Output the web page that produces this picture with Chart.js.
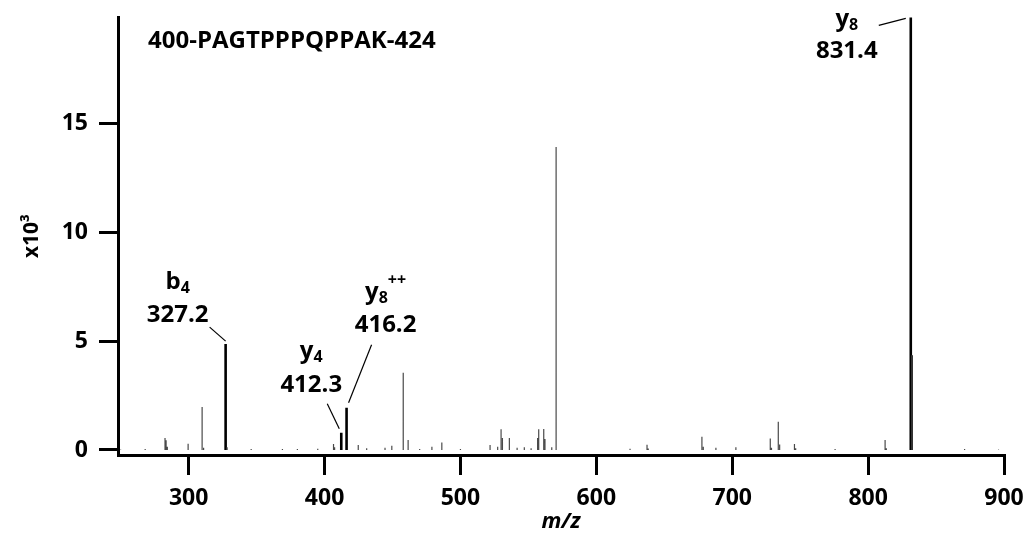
<!DOCTYPE html>
<html lang="en">
<head>
<meta charset="UTF-8">
<title>MS/MS spectrum - 400-PAGTPPPQPPAK-424</title>
<script src="https://cdn.jsdelivr.net/npm/chart.js"></script>
<style>
  html, body { margin: 0; padding: 0; background: #fff; }
</style>
</head>
<body>
<canvas id="spectrum" width="1029" height="539"></canvas>

<script>
// --- data (intensity in x10^3) ---
const peptideName = '400-PAGTPPPQPPAK-424';
const xTickValues = [300, 400, 500, 600, 700, 800, 900];
const yTickValues = [0, 5, 10, 15];

// annotated fragment ions (thick black sticks)
const ionMz = [327.2, 412.3, 416.2, 831.4];
const ionIntensity = [4.86, 0.79, 1.94, 19.85];
const ionLetter = ['b', 'y', 'y', 'y'];
const ionIndex = ['4', '4', '8', '8'];
const ionCharge = ['', '', '++', ''];

// y8 isotope, drawn with the ion
const isoMz = [832.3];
const isoIntensity = [4.35];

// all other peaks (thin grey sticks)
const peakMz = [268.0, 282.6, 283.4, 284.3, 299.6, 309.9, 311.0, 328.3, 346.0, 369.0,
  380.0, 395.0, 406.6, 407.4, 424.8, 431.0, 444.5, 449.5, 457.9, 461.5,
  470.0, 479.0, 486.3, 500.0, 521.8, 527.4, 529.9, 530.9, 536.0, 541.7,
  547.0, 552.0, 556.8, 557.6, 561.3, 562.2, 567.2, 570.4, 624.8, 637.3,
  638.2, 677.7, 678.7, 688.0, 702.7, 728.0, 728.9, 733.9, 734.9, 745.8,
  746.7, 775.7, 812.5, 813.4, 871.0];
const peakIntensity = [0.05, 0.55, 0.45, 0.15, 0.29, 1.97, 0.10, 0.12, 0.04, 0.05,
  0.04, 0.06, 0.28, 0.12, 0.23, 0.08, 0.10, 0.20, 3.55, 0.46,
  0.05, 0.15, 0.34, 0.04, 0.23, 0.15, 0.95, 0.55, 0.55, 0.10,
  0.12, 0.08, 0.55, 0.95, 0.96, 0.50, 0.12, 13.9, 0.06, 0.24,
  0.07, 0.61, 0.15, 0.10, 0.12, 0.53, 0.10, 1.30, 0.25, 0.28,
  0.08, 0.05, 0.46, 0.08, 0.05];

// noise floor along the baseline
const noiseMz = [250, 896];
const noiseIntensity = [0.04, 0.04];

// --- look ---
const FONT = '"Open Sans", "DejaVu Sans", sans-serif';

// label placement relative to the top of each annotated stick (px)
const labelLayout = [
  { dx: -48, ionDy: -55, valueDy: -22, line: [-16, -17, 0, -3] },
  { dx: -30, ionDy: -75, valueDy: -41, line: [-14, -29, -2, -4] },
  { dx: 39, ionDy: -109, valueDy: -76, line: [25, -63, 2, -5] },
  { dx: -64, ionDy: 9, valueDy: 41, line: [-32, 8, -5, 1] }
];

// each peak becomes a vertical stick: (m,0) -> (m,h), then a gap
function sticks(mz, inten) {
  const pts = [];
  mz.forEach((m, i) => {
    pts.push({ x: m, y: 0 }, { x: m, y: inten[i] }, { x: m, y: null });
  });
  return pts;
}

// title + fragment labels with sub/superscripts
const annotate = {
  id: 'annotate',
  afterDatasetsDraw(chart) {
    const { ctx, chartArea } = chart;
    const xs = chart.scales.x, ys = chart.scales.y;
    ctx.save();
    ctx.fillStyle = '#000';
    ctx.strokeStyle = '#000';
    ctx.textBaseline = 'alphabetic';

    ctx.font = 'bold 24px ' + FONT;
    ctx.textAlign = 'left';
    ctx.fillText(peptideName, chartArea.left + 30, chartArea.top + 31);

    ionMz.forEach((m, i) => {
      const px = xs.getPixelForValue(m);
      const py = ys.getPixelForValue(ionIntensity[i]);
      const L = labelLayout[i];

      ctx.lineWidth = 1.2;
      ctx.beginPath();
      ctx.moveTo(px + L.line[0], py + L.line[1]);
      ctx.lineTo(px + L.line[2], py + L.line[3]);
      ctx.stroke();

      ctx.textAlign = 'center';
      ctx.font = 'bold 24px ' + FONT;
      ctx.fillText(m.toFixed(1), px + L.dx, py + L.valueDy);

      ctx.textAlign = 'left';
      ctx.font = 'bold 24px ' + FONT;
      const wL = ctx.measureText(ionLetter[i]).width;
      ctx.font = 'bold 16px ' + FONT;
      const wS = ctx.measureText(ionIndex[i]).width;
      const wC = ionCharge[i] ? ctx.measureText(ionCharge[i]).width : 0;
      const x0 = px + L.dx - (wL + wS + wC) / 2;
      const by = py + L.ionDy;
      ctx.font = 'bold 24px ' + FONT;
      ctx.fillText(ionLetter[i], x0, by);
      ctx.font = 'bold 16px ' + FONT;
      ctx.fillText(ionIndex[i], x0 + wL, by + 4);
      if (ionCharge[i]) ctx.fillText(ionCharge[i], x0 + wL + wS, by - 14);
    });
    ctx.restore();
  }
};

const tickFont = { family: FONT, size: 23, weight: 'bold' };

new Chart(document.getElementById('spectrum'), {
  type: 'line',
  data: {
    datasets: [
      {
        data: sticks(noiseMz, noiseIntensity),
        borderColor: '#a0a0a0',
        borderWidth: 1,
        borderDash: [2, 2],
        pointRadius: 0
      },
      {
        data: sticks(peakMz, peakIntensity),
        borderColor: '#4a4a4a',
        borderWidth: 1.2,
        pointRadius: 0
      },
      {
        data: sticks(isoMz, isoIntensity),
        borderColor: '#333',
        borderWidth: 2,
        pointRadius: 0
      },
      {
        data: sticks(ionMz, ionIntensity),
        borderColor: '#000',
        borderWidth: 2.6,
        pointRadius: 0
      }
    ]
  },
  options: {
    responsive: false,
    animation: false,
    spanGaps: false,
    layout: { padding: { top: 17, right: 25, left: 0, bottom: 0 } },
    plugins: { legend: { display: false }, tooltip: { enabled: false } },
    scales: {
      x: {
        type: 'linear',
        min: 248,
        max: 900,
        afterBuildTicks: s => { s.ticks = xTickValues.map(v => ({ value: v })); },
        afterFit: s => { s.height = 84; s.paddingLeft = 0; s.paddingRight = 0; },
        ticks: { font: tickFont, color: '#000', padding: 10, maxRotation: 0, autoSkip: false },
        grid: { drawOnChartArea: false, drawTicks: true, tickLength: 20, color: '#000', lineWidth: 3 },
        border: { color: '#000', width: 3 },
        title: {
          display: true,
          text: 'm/z',
          color: '#000',
          font: { family: FONT, size: 22, weight: 'bold', style: 'italic' },
          padding: { top: 0, bottom: 4 }
        }
      },
      y: {
        min: -0.23,
        max: 19.87,
        afterBuildTicks: s => { s.ticks = yTickValues.map(v => ({ value: v })); },
        afterFit: s => { s.width = 118; s.paddingTop = 0; s.paddingBottom = 0; },
        ticks: { font: tickFont, color: '#000', padding: 11 },
        grid: { drawOnChartArea: false, drawTicks: true, tickLength: 19, color: '#000', lineWidth: 3 },
        border: { color: '#000', width: 3 },
        title: {
          display: true,
          text: 'x10³',
          color: '#000',
          font: { family: FONT, size: 21, weight: 'bold' },
          padding: { top: 19, bottom: 0 }
        }
      }
    }
  },
  plugins: [annotate]
});
</script>
</body>
</html>
